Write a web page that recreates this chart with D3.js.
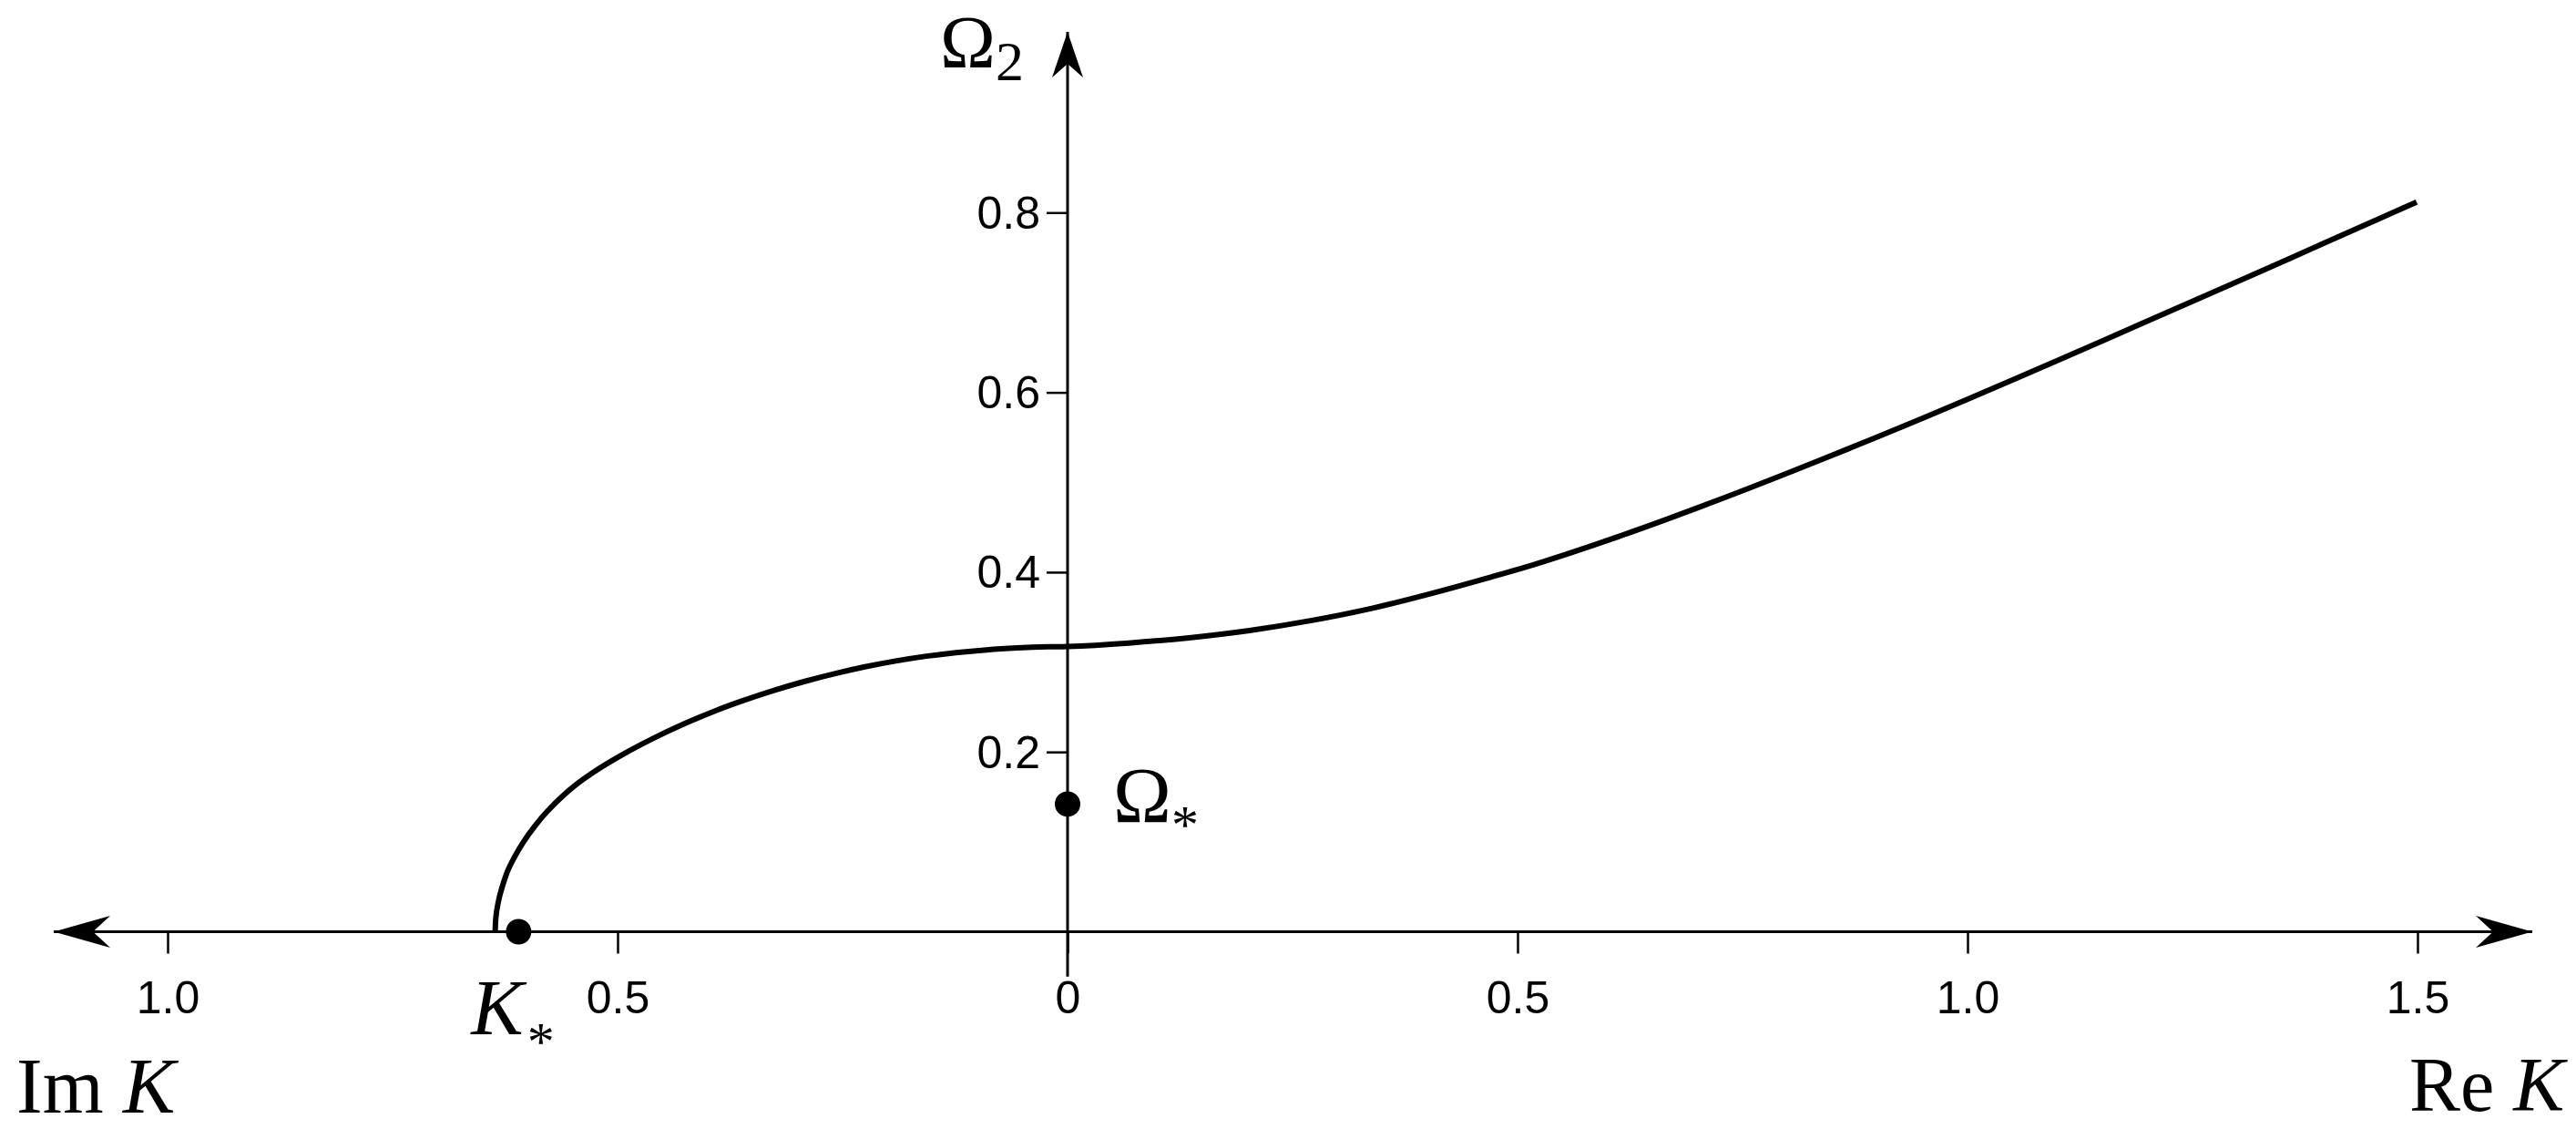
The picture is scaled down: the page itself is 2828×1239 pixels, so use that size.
<!DOCTYPE html>
<html>
<head>
<meta charset="utf-8">
<script src="https://cdn.jsdelivr.net/npm/d3@7"></script>
<style>
  body { margin: 0; background: #fff; }
  svg { display: block; background: #fff; }
  .tick text { font-family: "Liberation Sans", Arial, sans-serif; font-size: 50px; fill: #000; }
  .math { font-family: "Liberation Serif", "Times New Roman", serif; fill: #000; }
</style>
</head>
<body>
<svg width="2828" height="1239"></svg>
<script>
// signed K: negative values are read on the Im K half-axis (left), positive on Re K
const kValues = [
    -0.636, -0.6355, -0.635, -0.634, -0.632, -0.630, -0.627, -0.622, -0.615, -0.605,
    -0.592, -0.578, -0.562, -0.545, -0.528, -0.495, -0.461, -0.427, -0.393, -0.360,
    -0.326, -0.292, -0.258, -0.225, -0.191, -0.157, -0.124, -0.090, -0.056, -0.022, 0,
    0.068, 0.135, 0.202, 0.270, 0.337, 0.405, 0.472, 0.528, 0.596, 0.663,
    0.731, 0.798, 0.866, 0.933, 1.001, 1.057, 1.124, 1.192, 1.259, 1.327,
    1.394, 1.462, 1.499
];
const omegaValues = [
    0, 0.0126, 0.0178, 0.0252, 0.0357, 0.0437, 0.0537, 0.068, 0.0823, 0.0993,
    0.1175, 0.134, 0.150, 0.1645, 0.1767, 0.1968, 0.2148, 0.2308, 0.2451, 0.2573,
    0.2685, 0.2785, 0.2873, 0.2947, 0.3012, 0.3065, 0.3105, 0.3136, 0.3157, 0.317, 0.3173,
    0.3212, 0.327, 0.335, 0.346, 0.3595, 0.3765, 0.395, 0.4115, 0.434, 0.4578,
    0.4833, 0.5094, 0.5366, 0.5641, 0.5927, 0.6168, 0.6459, 0.6758, 0.7053, 0.7352,
    0.765, 0.7953, 0.8118
];
const xTicks = [-1, -0.5, 0, 0.5, 1, 1.5];
const yTicks = [0.2, 0.4, 0.6, 0.8];
const kStar = [-0.61, 0];
const omegaStar = [0, 0.142];
const axisEnds = {left: -1.1265, right: 1.6275, top: 1.001, bottom: -0.05};

let svg = d3.select('svg');

let x = d3.scaleLinear().domain([-1, 1.5]).range([184, 2654]),
    y = d3.scaleLinear().domain([0, 0.8]).range([1022.5, 233.3]);

// axis lines
svg.append('line')
    .attr('x1', x(axisEnds.left)).attr('x2', x(axisEnds.right))
    .attr('y1', y(0)).attr('y2', y(0))
    .attr('stroke', '#000').attr('stroke-width', 3);

svg.append('line')
    .attr('x1', x(0)).attr('x2', x(0))
    .attr('y1', y(axisEnds.bottom)).attr('y2', y(axisEnds.top))
    .attr('stroke', '#000').attr('stroke-width', 3);

// barbed arrow heads, drawn pointing right then rotated
function arrowHead(tx, ty, angle, len, half, notch) {
    svg.append('path')
        .attr('d', `M0,0 L${-len},${-half} L${-len + notch},0 L${-len},${half} Z`)
        .attr('transform', `translate(${tx},${ty}) rotate(${angle})`)
        .attr('fill', '#000');
}
arrowHead(x(axisEnds.right), y(0), 0, 62, 17.5, 19);
arrowHead(x(axisEnds.left), y(0), 180, 62, 17.5, 19);
arrowHead(x(0), y(axisEnds.top), -90, 50, 17, 15);

// ticks
let xAxis = svg.append('g')
    .attr('transform', `translate(0,${y(0)})`)
    .call(d3.axisBottom(x)
        .tickValues(xTicks)
        .tickSize(24)
        .tickFormat(d => d === 0 ? '0' : Math.abs(d).toFixed(1)));
xAxis.select('.domain').remove();
xAxis.selectAll('line').attr('stroke', '#000').attr('stroke-width', 2.5);
xAxis.selectAll('text').attr('dy', null).attr('y', 89);

let yAxis = svg.append('g')
    .attr('transform', `translate(${x(0)},0)`)
    .call(d3.axisLeft(y)
        .tickValues(yTicks)
        .tickSize(23)
        .tickFormat(d3.format('.1f')));
yAxis.select('.domain').remove();
yAxis.selectAll('line').attr('stroke', '#000').attr('stroke-width', 2.5);
yAxis.selectAll('text').attr('dy', null).attr('x', -30).attr('y', 17);

// dispersion curve
let points = kValues.map((k, i) => [k, omegaValues[i]]);
let line = d3.line()
    .x(d => x(d[0]))
    .y(d => y(d[1]))
    .curve(d3.curveCatmullRom.alpha(0.5));

svg.append('path')
    .datum(points)
    .attr('d', line)
    .attr('fill', 'none')
    .attr('stroke', '#000')
    .attr('stroke-width', 6);

// marked points
[kStar, omegaStar].forEach(p => {
    svg.append('circle')
        .attr('cx', x(p[0]))
        .attr('cy', y(p[1]))
        .attr('r', 14)
        .attr('fill', '#000');
});

// labels
let om2 = svg.append('text').attr('class', 'math')
    .attr('x', x(0) - 140).attr('y', 74)
    .attr('font-size', 82)
    .text('\u03A9');
om2.append('tspan').attr('font-size', 62).attr('dy', 14).text('2');

let omS = svg.append('text').attr('class', 'math')
    .attr('x', x(omegaStar[0]) + 50).attr('y', y(omegaStar[1]) + 20)
    .attr('font-size', 86)
    .text('\u03A9');
omS.append('tspan').attr('font-size', 60).attr('dy', 23).text('*');

let kS = svg.append('text').attr('class', 'math')
    .attr('x', x(kStar[0]) - 52).attr('y', y(kStar[1]) + 112)
    .attr('font-size', 86);
kS.append('tspan').attr('font-style', 'italic').text('K');
kS.append('tspan').attr('font-size', 60).attr('dy', 28).attr('dx', 4).text('*');

let imK = svg.append('text').attr('class', 'math')
    .attr('x', 18).attr('y', 1221)
    .attr('font-size', 86);
imK.append('tspan').text('Im ');
imK.append('tspan').attr('font-style', 'italic').text('K');

let reK = svg.append('text').attr('class', 'math')
    .attr('x', 2645).attr('y', 1219)
    .attr('font-size', 84);
reK.append('tspan').text('Re ');
reK.append('tspan').attr('font-style', 'italic').text('K');
</script>
</body>
</html>
